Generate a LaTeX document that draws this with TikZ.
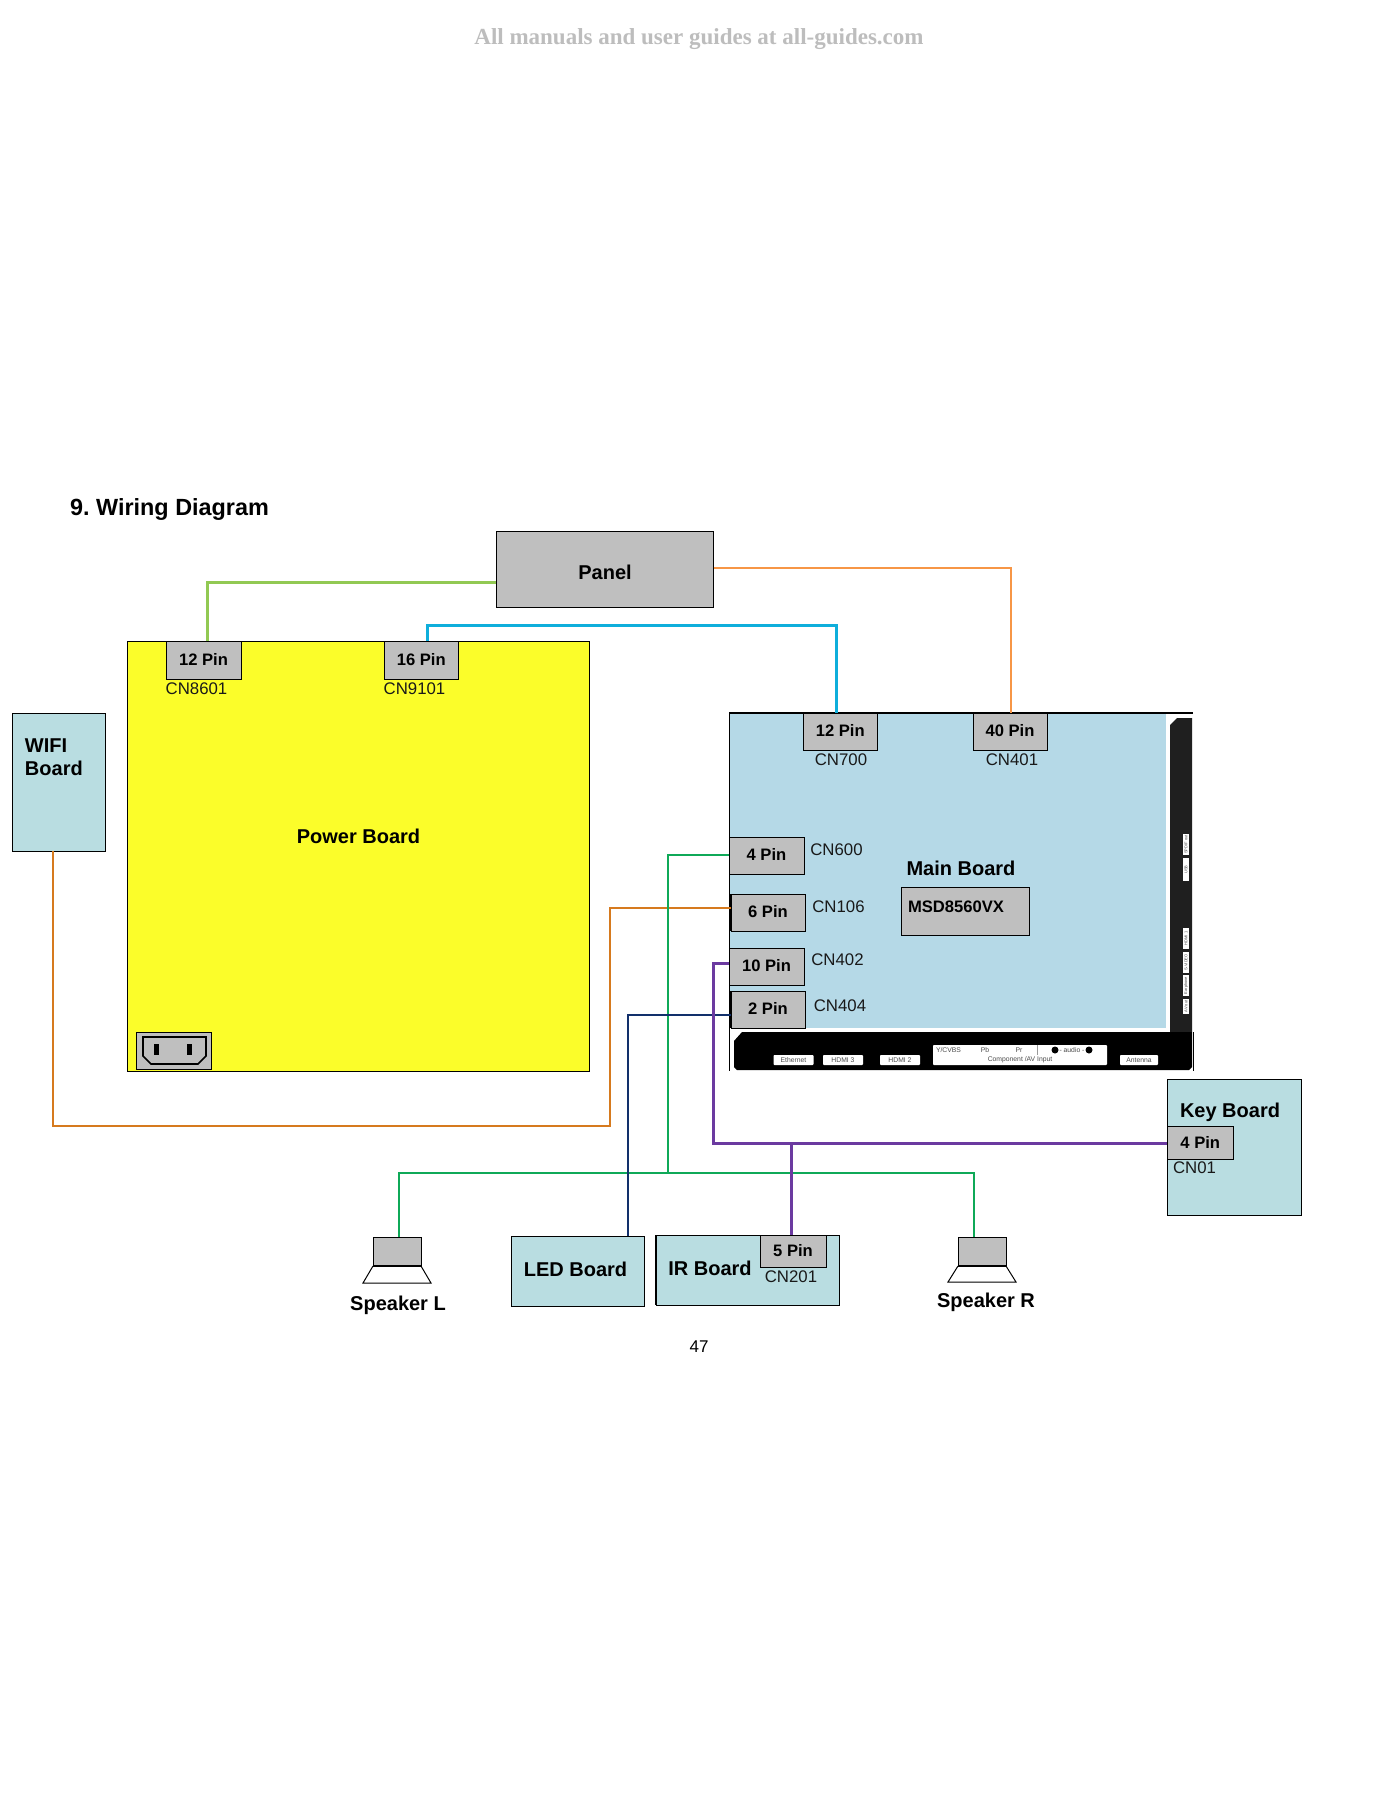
\documentclass[tikz,border=0pt]{standalone}
\usepackage{fontspec}
\setmainfont{Liberation Sans}
\newfontfamily\hdrfont{Liberation Serif}
\definecolor{pboard}{HTML}{FBFD2A}
\definecolor{mboard}{HTML}{B5D9E7}
\definecolor{tboard}{HTML}{B9DDE1}
\definecolor{cgray}{HTML}{BFBFBF}
\definecolor{wgreenl}{HTML}{92C953}
\definecolor{wcyan}{HTML}{0FAEDB}
\definecolor{worangel}{HTML}{F79646}
\definecolor{worange}{HTML}{D67A1E}
\definecolor{wgreen}{HTML}{0FA958}
\definecolor{wnavy}{HTML}{12306B}
\definecolor{wpurple}{HTML}{6B3AA0}
\tikzset{
  x=0.5pt,y=-0.5pt,
  every node/.style={inner sep=0pt,outer sep=0pt},
  bx/.style={rectangle,draw=black,line width=0.5pt,font=\bfseries\fontsize{10}{12}\selectfont},
  graybox/.style={bx,fill=cgray},
  pinbox/.style={bx,fill=cgray,font=\bfseries\fontsize{8.3}{10}\selectfont},
  teal/.style={bx,fill=tboard},
  boardlabel/.style={font=\bfseries\fontsize{10}{11.5}\selectfont},
  cnlabel/.style={font=\fontsize{8.4}{10}\selectfont,text=black!90},
  wire/.style={line width=1.5pt,line join=miter},
  midwire/.style={line width=1pt,line join=miter},
  port/.style={fill=white,rounded corners=0.4pt,font=\fontsize{3.4}{4}\selectfont,text=black!70},
  vport/.style={font=\fontsize{2}{2.5}\selectfont,text=black!70,rotate=90},
}
\newcommand{\pbox}[7]{\node[#6,minimum width={(#4-#2)*0.5pt},minimum height={(#5-#3)*0.5pt}] (#1) at ({(#2+#4)/2},{(#3+#5)/2}) {#7};}
\newcommand{\upb}[1]{\raisebox{0.8pt}{#1}}
\begin{document}
\begin{tikzpicture}
\useasboundingbox (0,0) rectangle (1400,1817);
\fill[white] (0,0) rectangle (1400,1817);
\node[font=\hdrfont\bfseries\fontsize{11.5}{14}\selectfont,text=black!26] (hdr) at (699,39) {All manuals and user guides at all-guides.com};
\node[anchor=west,font=\bfseries\fontsize{11.7}{14}\selectfont] (title) at (70,509) {9.\hspace{-1pt} Wiring Diagram};
% boards
\pbox{panel}{496}{531}{713.5}{607}{graybox}{}
\node[boardlabel] (panellbl) at (605,572) {Panel};
\pbox{power}{127.5}{641}{589}{1071}{bx,fill=pboard,line width=0.4pt}{}
\node[boardlabel] (powerlbl) at (358.5,836) {Power Board};
\pbox{pa}{166}{641}{241}{679}{pinbox}{\upb{12 Pin}}
\pbox{pb}{384}{641}{458.5}{679}{pinbox}{16 Pin}
\node[cnlabel] (cn8601) at (196.5,689) {CN8601};
\node[cnlabel] (cn9101) at (414.5,689) {CN9101};
\pbox{wifi}{12.5}{713}{105}{851}{teal}{}
\node[boardlabel,anchor=north west,align=left] (wifilbl) at (25,739) {WIFI\\Board};
% AC inlet
\pbox{inlet}{136}{1032}{211}{1069}{bx,fill=cgray}{}
\draw[line width=0.8pt] (143,1037) -- (206,1037) -- (206,1056) -- (198,1064) -- (151,1064) -- (143,1056) -- cycle;
\fill (154,1044) rectangle (159,1055);
\fill (187,1044) rectangle (192,1055);
% main board
\fill[mboard] (729,713) rectangle (1166,1028);
\draw[line width=1pt] (729,713) -- (1193,713);
\draw[line width=0.5pt] (729,713) -- (729,1071);
\draw[line width=0.5pt] (1193,1032) -- (1193,1071);
\fill[black!88] (1170,725) -- (1177,718) -- (1192,718) -- (1192,1032) -- (1170,1032) -- cycle;
\fill[black] (734,1041) -- (742,1032) -- (1192,1032) -- (1192,1067) -- (1189,1070) -- (737,1070) -- (734,1067) -- cycle;
\pbox{ma}{803.5}{713}{877}{750}{pinbox}{\upb{12 Pin}}
\pbox{mb}{973}{713}{1047}{750}{pinbox}{\upb{40 Pin}}
\node[cnlabel] (cn700) at (841,760) {CN700};
\node[cnlabel] (cn401) at (1012,760) {CN401};
\pbox{mc}{729}{837}{804}{874}{pinbox}{\upb{4 Pin}}
\pbox{md}{731}{894}{805}{931}{pinbox}{\upb{6 Pin}}
\draw[line width=1pt] (731,894) -- (731,931);
\pbox{me}{729}{948}{804}{985}{pinbox}{\upb{10 Pin}}
\pbox{mf}{731}{991}{805}{1028}{pinbox}{\upb{2 Pin}}
\draw[line width=1pt] (731,991) -- (731,1028);
\node[cnlabel] (cn600) at (836.5,850) {CN600};
\node[cnlabel] (cn106) at (838.5,907) {CN106};
\node[cnlabel] (cn402) at (837.5,960) {CN402};
\node[cnlabel] (cn404) at (840,1006) {CN404};
\node[boardlabel] (mainlbl) at (961,868) {Main Board};
\pbox{msd}{901}{887}{1029}{935}{graybox}{}
\node[anchor=west,font=\bfseries\fontsize{8.3}{10}\selectfont] (msdlbl) at (908,907) {MSD8560VX};
% ports, bottom strip
\pbox{p1}{773.5}{1055}{813.5}{1065}{port}{Ethernet}
\pbox{p2}{823}{1055}{863}{1065}{port}{HDMI 3}
\pbox{p3}{880}{1055}{920}{1065}{port}{HDMI 2}
\fill[white,rounded corners=0.4pt] (933,1045) rectangle (1107,1065);
\draw[black!40,line width=0.15pt] (1037,1045) -- (1037,1055);
\node[port,anchor=west] (p4a) at (936,1050) {Y/CVBS};
\node[port] (p4b) at (985,1050) {Pb};
\node[port] (p4c) at (1019,1050) {Pr};
\node[port] (p4d) at (1072,1050) {- audio -};
\fill (1055,1050) circle (3.5);
\fill (1089,1050) circle (3.5);
\node[port] (p4e) at (1020,1060) {Component /AV Input};
\pbox{p5}{1120}{1055}{1158}{1065}{port}{Antenna}
% ports, side strip
\pbox{v1}{1183}{834}{1189}{855}{fill=white}{}
\node[vport] (v1t) at (1186,844.5) {SPDIF out};
\pbox{v2}{1183}{858}{1189}{881}{fill=white}{}
\node[vport] (v2t) at (1186,869.5) {USB};
\pbox{v3}{1183}{928}{1189}{949}{fill=white}{}
\node[vport] (v3t) at (1186,938.5) {HDMI 1};
\pbox{v4}{1183}{952}{1189}{973}{fill=white}{}
\node[vport] (v4t) at (1186,962.5) {S-VIDEO};
\pbox{v5}{1183}{975}{1189}{996}{fill=white}{}
\node[vport] (v5t) at (1186,985.5) {Earphone};
\pbox{v6}{1183}{999}{1189}{1014}{fill=white}{}
\node[vport] (v6t) at (1186,1006.5) {AV out};
% key board
\pbox{key}{1167}{1079}{1301.5}{1215}{teal}{}
\node[boardlabel,anchor=west] (keylbl) at (1180,1112) {Key Board};
\pbox{keypin}{1167}{1126}{1233.5}{1159}{pinbox}{4 Pin}
\node[cnlabel,anchor=west] (cn01) at (1173,1168) {CN01};
% bottom boards
\pbox{led}{511}{1236}{644.5}{1306}{teal}{}
\node[boardlabel] (ledlbl) at (575.5,1269) {LED Board};
\pbox{ir}{656}{1235}{839}{1305}{teal,line width=0.4pt}{}
\draw[line width=0.9pt] (656,1235) -- (656,1305);
\node[boardlabel] (irlbl) at (710,1268) {IR Board};
\pbox{irpin}{760}{1235}{826}{1267}{pinbox}{5 Pin}
\node[cnlabel] (cn201) at (791,1277) {CN201};
% speakers
\pbox{spl}{373}{1237}{421}{1266}{graybox}{}
\draw[line width=0.5pt] (373,1266) -- (363,1283) -- (431,1283) -- (421,1266);
\draw[line width=1pt] (373,1266) -- (421,1266);
\node[boardlabel] (spllbl) at (398,1305) {Speaker L};
\pbox{spr}{958}{1237}{1006}{1266}{graybox}{}
\draw[line width=0.5pt] (958,1266) -- (948,1282) -- (1016,1282) -- (1006,1266);
\draw[line width=1pt] (958,1266) -- (1006,1266);
\node[boardlabel] (sprlbl) at (986,1302) {Speaker R};
\node[font=\fontsize{8.5}{10}\selectfont] (pageno) at (699,1347) {47};
% wires
\coordinate (ga) at (207.5,582);
\draw[wire,wgreenl] (pa.north -| ga) -- (ga) -- (panel.west |- ga);
\coordinate (ca) at (427,625);
\coordinate (cb) at (836.5,625);
\draw[wire,wcyan] (pb.north -| ca) -- (ca) -- (cb) -- (ma.north -| cb);
\coordinate (oa) at (1010.5,568);
\draw[midwire,worangel] (panel.east |- oa) -- (oa) -- (mb.north -| oa);
\coordinate (da) at (53,1126);
\coordinate (db) at (610,1126);
\coordinate (dc) at (610,908);
\draw[midwire,worange] (wifi.south -| da) -- (da) -- (db) -- (dc) -- (md.west |- dc);
\coordinate (ha) at (668,855);
\coordinate (hb) at (668,1173);
\coordinate (hl) at (399,1173);
\coordinate (hr) at (973.5,1173);
\draw[midwire,wgreen] (mc.west |- ha) -- (ha) -- (hb);
\draw[midwire,wgreen] (spl.north -| hl) -- (hl) -- (hr) -- (spr.north -| hr);
\coordinate (na) at (628,1015);
\draw[midwire,wnavy] (mf.west |- na) -- (na) -- (led.north -| na);
\coordinate (va) at (713,963);
\coordinate (vb) at (713,1143);
\coordinate (vc) at (791,1143);
\draw[wire,wpurple] (me.west |- va) -- (va) -- (vb) -- (keypin.west |- vb);
\draw[wire,wpurple] (vc) -- (irpin.north -| vc);
\end{tikzpicture}
\end{document}
